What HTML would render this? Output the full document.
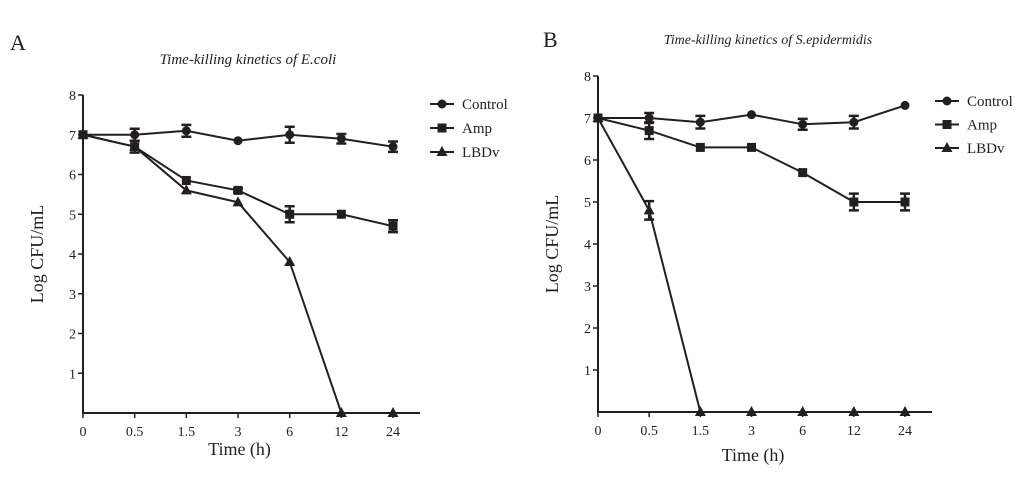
<!DOCTYPE html>
<html><head><meta charset="utf-8"><style>
body{margin:0;background:#fff;width:1024px;height:472px;overflow:hidden}
svg text{font-family:"Liberation Serif",serif;fill:#231f20}
</style></head><body>
<svg id="chart" width="1024" height="472">
<text x="10" y="50" font-size="22">A</text>
<text x="543" y="47" font-size="22">B</text>
<text x="248" y="64" font-size="15" font-style="italic" text-anchor="middle">Time-killing kinetics of E.coli</text>
<text x="768" y="44" font-size="14" font-style="italic" text-anchor="middle">Time-killing kinetics of S.epidermidis</text>
</svg>
<script>
const categories=["0","0.5","1.5","3","6","12","24"];
const yTicks=[1,2,3,4,5,6,7,8];
const seriesNames=["Control","Amp","LBDv"];
const aControl=[7,7,7.1,6.85,7,6.9,6.7];
const aControlErr=[0,0.15,0.15,0,0.2,0.12,0.13];
const aAmp=[7,6.7,5.85,5.6,5,5,4.7];
const aAmpErr=[0,0.15,0,0.05,0.2,0,0.15];
const aLBDv=[7,6.7,5.6,5.3,3.8,0,0];
const aLBDvErr=[0,0,0,0,0,0,0];
const bControl=[7,7,6.9,7.08,6.85,6.9,7.3];
const bControlErr=[0,0.12,0.15,0,0.13,0.15,0];
const bAmp=[7,6.7,6.3,6.3,5.7,5,5];
const bAmpErr=[0,0.2,0,0,0,0.2,0.2];
const bLBDv=[7,4.8,0,0,0,0,0];
const bLBDvErr=[0,0.22,0,0,0,0,0];

const svg=document.getElementById('chart');
const NS='http://www.w3.org/2000/svg';
function mk(tag,attrs,parent){const e=document.createElementNS(NS,tag);for(const k in attrs)e.setAttribute(k,attrs[k]);(parent||svg).appendChild(e);return e;}
function marker(shape,x,y,g){
  let m;
  if(shape===0)m=mk('circle',{cx:x,cy:y,r:4.5,fill:'#231f20'},g);
  else if(shape===1)m=mk('rect',{x:x-4.5,y:y-4.5,width:9,height:9,fill:'#231f20'},g);
  else m=mk('polygon',{points:`${x},${y-6} ${x-5.5},${y+4} ${x+5.5},${y+4}`,fill:'#231f20'},g);
  return m;
}
function panel(p,x0,x1,yTop,y0,dx,axisEnd,series,errs,legX,legY,legGap,id,xtY){
  const X=i=>x0+i*dx;
  const Y=v=>y0-v*(y0-yTop)/8;
  const g=mk('g',{});
  
  
  const ax=mk('path',{d:`M${x0},${yTop} V${y0} H${axisEnd}`,stroke:'#231f20','stroke-width':2,fill:'none'},g);
  
  
  yTicks.forEach(t=>{
    mk('line',{x1:x0-5,x2:x0,y1:Y(t),y2:Y(t),stroke:'#231f20','stroke-width':1.5},g);
    const tx=mk('text',{x:x0-7,y:Y(t)+5,'font-size':14,'text-anchor':'end'},g);
    tx.textContent=t;
    
    
  });
  categories.forEach((c,i)=>{
    mk('line',{x1:X(i),x2:X(i),y1:y0,y2:y0+5,stroke:'#231f20','stroke-width':1.5},g);
    const tx=mk('text',{x:X(i),y:y0+23,'font-size':14,'text-anchor':'middle'},g);
    tx.textContent=c;
    
    
  });
  const xt=mk('text',{x:(x0+axisEnd)/2-12,y:xtY,'font-size':18,'text-anchor':'middle'},g);
  xt.textContent='Time (h)';
  
  
  const yt=mk('text',{transform:`translate(${x0-40},${(yTop+y0)/2}) rotate(-90)`,'font-size':18,'text-anchor':'middle'},g);
  yt.textContent='Log CFU/mL';
  
  
  series.forEach((s,si)=>{
    const sg=mk('g',{},g);
    
    
    mk('polyline',{points:s.map((v,i)=>X(i)+','+Y(v)).join(' '),fill:'none',stroke:'#231f20','stroke-width':2},sg);
    s.forEach((v,i)=>{
      const e=errs[si][i];
      if(e>0){
        mk('path',{d:`M${X(i)},${Y(v+e)} V${Y(v-e)} M${X(i)-5},${Y(v+e)} H${X(i)+5} M${X(i)-5},${Y(v-e)} H${X(i)+5}`,stroke:'#231f20','stroke-width':2.5,fill:'none'},sg);
      }
      const m=marker(si,X(i),Y(v),sg);
      
      
    });
    const lg=mk('g',{},g);
    
    
    const ly=legY+si*legGap;
    mk('line',{x1:legX,x2:legX+24,y1:ly,y2:ly,stroke:'#231f20','stroke-width':2},lg);
    marker(si,legX+12,ly,lg);
    const lt=mk('text',{x:legX+32,y:ly+5,'font-size':15},lg);
    lt.textContent=seriesNames[si];
  });
}
panel('a',83,393,95,413,51.67,420,[aControl,aAmp,aLBDv],[aControlErr,aAmpErr,aLBDvErr],430,104,24,'a',455);
panel('b',598,905,76,412,51.17,932,[bControl,bAmp,bLBDv],[bControlErr,bAmpErr,bLBDvErr],935,101,23.5,'b',461);
</script>
</body></html>
